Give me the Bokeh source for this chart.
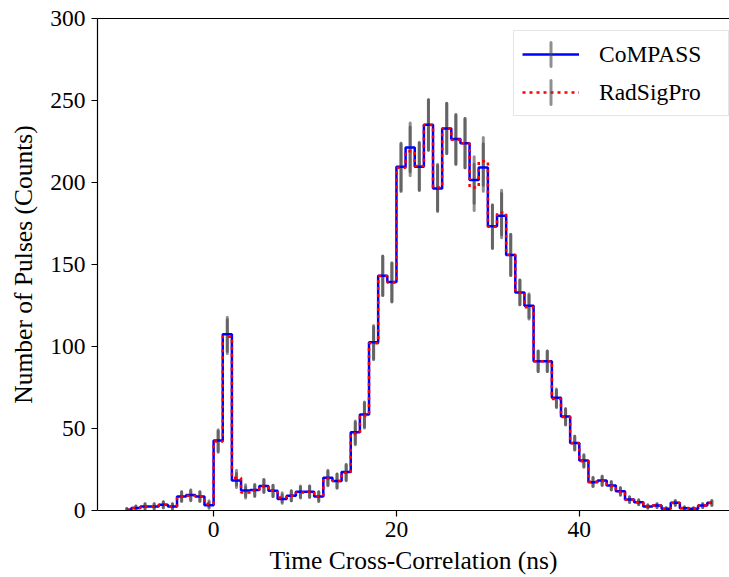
import numpy as np
from bokeh.plotting import figure
from bokeh.models import (ColumnDataSource, FixedTicker, LinearAxis, Legend,
                          LegendItem, Range1d)
from bokeh.embed import file_html
from bokeh.resources import INLINE

# ---- data (1 ns bins, centres from -9.5 to 54.5 ns) ----
bin_centers = list(np.arange(-9.5, 55.0, 1.0))

compass = [0.5, 1.5, 2.5, 2.5, 3.5, 2.5, 8.5, 9.5, 8.5, 3.2,
           42.7, 107.5, 18.3, 12.2, 12.5, 15.0, 12.0, 7.0, 9.0, 11.5,
           11.5, 8.5, 20.0, 18.0, 23.4, 47.7, 58.5, 102.6, 143.2, 139.3,
           209.6, 221.4, 209.6, 235.2, 196.4, 233.0, 226.5, 224.0, 201.5, 209.2,
           173.3, 179.8, 155.8, 133.0, 124.9, 91.0, 91.0, 68.7, 57.3, 41.2,
           30.5, 17.3, 18.3, 15.2, 11.8, 6.7, 5.1, 2.4, 3.0, 1.0,
           4.7, 1.4, 1.0, 3.0, 4.7]

radsigpro = [0.5, 1.5, 2.5, 2.5, 3.5, 2.5, 8.5, 9.0, 8.5, 4.0,
             42.0, 106.0, 20.0, 11.0, 12.0, 15.0, 12.0, 8.0, 9.0, 11.0,
             11.5, 8.5, 19.5, 18.0, 23.0, 47.0, 58.0, 102.0, 143.0, 139.0,
             209.0, 219.0, 210.0, 235.0, 197.0, 233.0, 226.0, 224.0, 197.0, 212.9,
             173.0, 181.7, 156.0, 133.0, 124.0, 91.0, 91.0, 68.0, 57.0, 41.0,
             30.0, 17.5, 18.0, 15.0, 11.5, 6.5, 5.0, 2.5, 3.0, 1.0,
             4.5, 1.5, 1.0, 3.0, 4.5]

series_names = ["CoMPASS", "RadSigPro"]
x_ticks = [0, 20, 40]
y_ticks = [0, 50, 100, 150, 200, 250, 300]

FONT = "Liberation Serif"

src_c = ColumnDataSource(dict(x=bin_centers, y=compass,
                              h=list(2 * np.sqrt(compass)),
                              w=[1e-4] * len(compass)))
src_r = ColumnDataSource(dict(x=bin_centers, y=radsigpro,
                              h=list(2 * np.sqrt(radsigpro)),
                              w=[1e-4] * len(radsigpro)))

p = figure(width=729, height=577, output_backend="svg", toolbar_location=None,
           x_range=Range1d(-12.7, 56.43), y_range=Range1d(0, 300),
           min_border_left=97, min_border_right=0, min_border_top=18,
           min_border_bottom=67)

p.background_fill_color = "white"
p.border_fill_color = "white"
p.outline_line_color = None
p.xgrid.visible = False
p.ygrid.visible = False

# error bars (sqrt(N)) drawn as degenerate ellipses -> vertical bars
err_c = p.ellipse(x="x", y="y", width="w", height="h", source=src_c,
                  fill_color=None, line_color="#4a4a4a", line_alpha=0.62,
                  line_width=3)
err_r = p.ellipse(x="x", y="y", width="w", height="h", source=src_r,
                  fill_color=None, line_color="#4a4a4a", line_alpha=0.62,
                  line_width=3)

line_c = p.step(x="x", y="y", source=src_c, mode="center",
                line_color="#0000ff", line_width=2.5)
line_r = p.step(x="x", y="y", source=src_r, mode="center",
                line_color="#ff0000", line_width=2.5, line_dash="3 4")

# axes
for ax in (p.xaxis[0], p.yaxis[0]):
    ax.axis_line_color = "black"
    ax.axis_line_width = 1.2
    ax.major_tick_line_color = "black"
    ax.major_tick_line_width = 1.2
    ax.major_tick_out = 6
    ax.major_tick_in = 0
    ax.minor_tick_line_color = None
    ax.major_label_text_font = FONT
    ax.major_label_text_font_size = "23.5px"
    ax.major_label_text_color = "black"
    ax.axis_label_text_font = FONT
    ax.axis_label_text_font_size = "25.5px"
    ax.axis_label_text_font_style = "normal"
    ax.axis_label_text_color = "black"

p.xaxis[0].ticker = FixedTicker(ticks=x_ticks)
p.yaxis[0].ticker = FixedTicker(ticks=y_ticks)
p.xaxis[0].axis_label = "Time Cross-Correlation (ns)"
p.yaxis[0].axis_label = "Number of Pulses (Counts)"
p.xaxis[0].major_label_standoff = 5
p.xaxis[0].axis_label_standoff = 6
p.yaxis[0].major_label_standoff = 6
p.yaxis[0].axis_label_standoff = 9

top_axis = LinearAxis(ticker=FixedTicker(ticks=[]), axis_line_color="black",
                      axis_line_width=1.2, major_tick_line_color=None,
                      minor_tick_line_color=None)
p.add_layout(top_axis, "above")

legend = Legend(items=[
    LegendItem(label=series_names[0], renderers=[line_c, err_c]),
    LegendItem(label=series_names[1], renderers=[line_r, err_r]),
], location=(416, 394))
legend.label_text_font = FONT
legend.label_text_font_size = "23.5px"
legend.label_text_color = "black"
legend.glyph_width = 57
legend.glyph_height = 30
legend.label_height = 30
legend.label_width = 121
legend.label_standoff = 20
legend.spacing = 8
legend.padding = 8
legend.margin = 0
legend.border_line_color = "#cccccc"
legend.border_line_width = 1
legend.background_fill_color = "white"
legend.background_fill_alpha = 0.8
p.add_layout(legend, "center")

open("out.html", "w").write(file_html(p, INLINE))
